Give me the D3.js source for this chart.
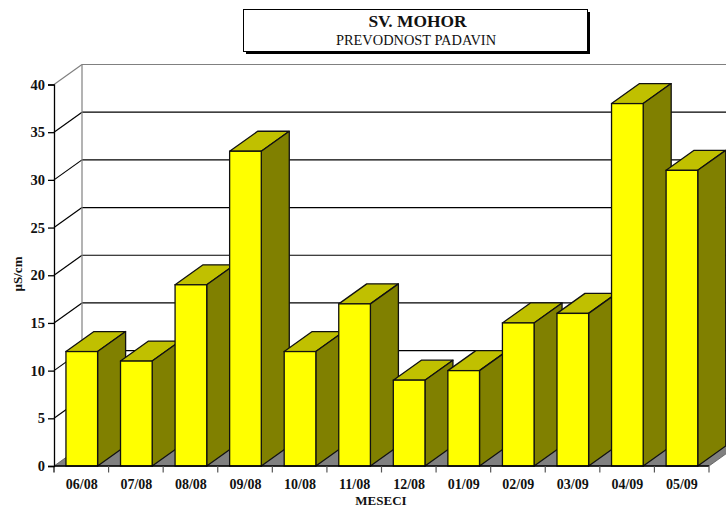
<!DOCTYPE html>
<html><head><meta charset="utf-8">
<script src="https://cdn.jsdelivr.net/npm/d3@7/dist/d3.min.js"></script>
<style>html,body{margin:0;padding:0;background:#fff}svg{display:block}text{font-family:"Liberation Serif",serif;fill:#111}</style>
</head><body><svg id="c" width="726" height="508"></svg>
<script>
const categories=["06/08","07/08","08/08","09/08","10/08","11/08","12/08","01/09","02/09","03/09","04/09","05/09"];
const values=[12,11,19,33,12,17,9,10,15,16,38,31];
const yTicks=[0,5,10,15,20,25,30,35,40];
const titleText="SV. MOHOR", subtitleText="PREVODNOST PADAVIN", xTitle="MESECI", yTitle="µS/cm";

const svg=d3.select("#c");
const W=726,H=508,dx=28,dy=-20;
const x=d3.scaleBand().domain(categories).range([54.5,709.2]).paddingInner(0.42).paddingOuter(0.21);
const y=d3.scaleLinear().domain([0,40]).range([466,84.5]);
const edge=i=>54+i*(655/12);
const pts=a=>a.map(p=>p.join(",")).join(" ");

// floor
svg.append("polygon").attr("points",pts([[54,y(0)],[709,y(0)],[709+dx,y(0)+dy],[54+dx,y(0)+dy]])).attr("fill","#808080").attr("stroke","#555").attr("stroke-width",0.8);
// back wall grid
svg.append("g").selectAll("line.g").data(yTicks.filter(d=>d>0)).join("line")
  .attr("x1",54).attr("y1",d=>y(d)).attr("x2",54+dx).attr("y2",d=>y(d)+dy)
  .attr("stroke",d=>d===40?"#808080":"#000").attr("stroke-width",1.2);
svg.append("g").selectAll("line.h").data(yTicks.filter(d=>d>0)).join("line")
  .attr("x1",54+dx).attr("y1",d=>y(d)+dy).attr("x2",W).attr("y2",d=>y(d)+dy)
  .attr("stroke",d=>d===40?"#808080":"#000").attr("stroke-width",1.2);
svg.append("line").attr("x1",54+dx).attr("x2",54+dx).attr("y1",y(40)+dy).attr("y2",y(0)+dy).attr("stroke","#808080").attr("stroke-width",1.2);

// bars
const g=svg.append("g").selectAll("g").data(categories.map((c,i)=>({c,v:values[i]}))).join("g");
const sw=1.3;
g.append("polygon").attr("points",d=>{const l=x(d.c),r=l+x.bandwidth(),t=y(d.v);return pts([[l,t],[r,t],[r+dx,t+dy],[l+dx,t+dy]]);})
  .attr("fill","#c0c000").attr("stroke","#111").attr("stroke-width",sw).attr("stroke-linejoin","round");
g.append("polygon").attr("points",d=>{const r=x(d.c)+x.bandwidth(),t=y(d.v),b=y(0);return pts([[r,t],[r+dx,t+dy],[r+dx,b+dy],[r,b]]);})
  .attr("fill","#808000").attr("stroke","#111").attr("stroke-width",sw).attr("stroke-linejoin","round");
g.append("rect").attr("x",d=>x(d.c)).attr("y",d=>y(d.v)).attr("width",x.bandwidth()).attr("height",d=>y(0)-y(d.v))
  .attr("fill","#ffff00").attr("stroke","#111").attr("stroke-width",sw);

// axes
const yAxis=d3.axisLeft(y).tickValues(yTicks).tickSize(6).tickPadding(3).tickFormat(d3.format("d"));
const ya=svg.append("g").attr("transform","translate(54,0)").call(yAxis);
ya.selectAll("path").attr("stroke","#000").attr("stroke-width",1.3);
ya.selectAll("line").attr("stroke","#000").attr("stroke-width",1.3);
ya.selectAll("text").attr("font-family","Liberation Serif").attr("font-size",14.5).attr("font-weight","bold").attr("fill","#111");

const xAxis=d3.axisBottom(x).tickSize(0).tickPadding(13);
const xa=svg.append("g").attr("transform","translate(0,466)").call(xAxis);
xa.select("path").remove();
xa.selectAll("text").attr("font-family","Liberation Serif").attr("font-size",14).attr("font-weight","bold").attr("fill","#111");
svg.append("line").attr("x1",54).attr("x2",709).attr("y1",466).attr("y2",466).attr("stroke","#000").attr("stroke-width",1.5);
svg.append("g").selectAll("line").data(d3.range(13)).join("line")
  .attr("x1",edge).attr("x2",edge).attr("y1",466).attr("y2",472.5)
  .attr("stroke",i=>i===0?"#000":"#555").attr("stroke-width",1.2);

svg.append("text").attr("x",381).attr("y",505).attr("text-anchor","middle").attr("font-size",13).attr("font-weight","bold").text(xTitle);
svg.append("text").attr("transform","translate(22,274) rotate(-90)").attr("text-anchor","middle").attr("font-size",13).attr("font-weight","bold").text(yTitle);

// title box
svg.append("rect").attr("x",246).attr("y",12).attr("width",344).attr("height",42).attr("fill","#000");
svg.append("rect").attr("x",243.5).attr("y",9.5).attr("width",344).attr("height",42).attr("fill","#fff").attr("stroke","#000").attr("stroke-width",1);
svg.append("text").attr("x",417.5).attr("y",27).attr("text-anchor","middle").attr("font-size",17.4).attr("font-weight","bold").text(titleText);
svg.append("text").attr("x",416).attr("y",45).attr("text-anchor","middle").attr("font-size",14.4).text(subtitleText);
</script></body></html>
